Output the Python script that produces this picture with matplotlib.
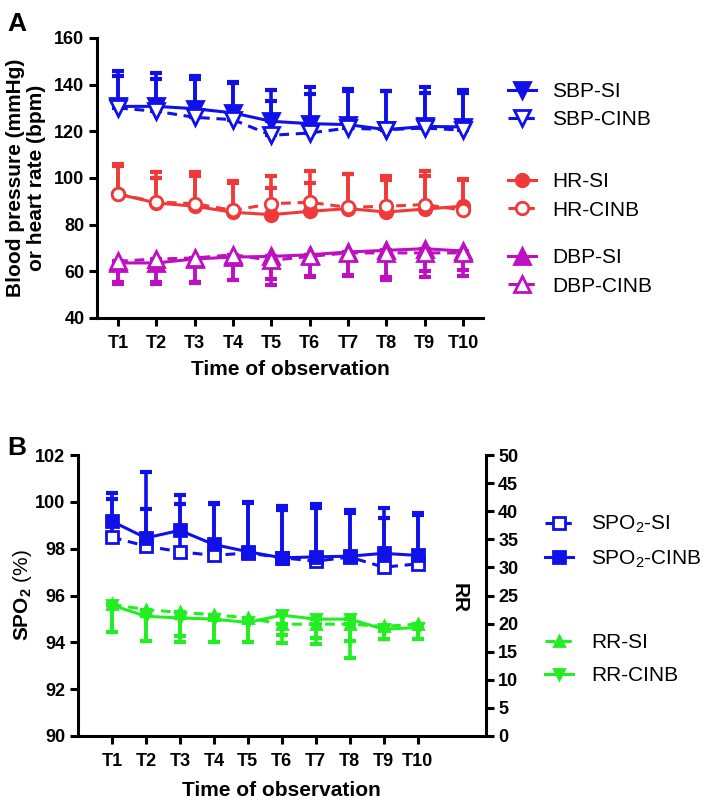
import matplotlib
matplotlib.use("Agg")
import matplotlib.pyplot as plt
import numpy as np

plt.rcParams['font.family'] = ['Liberation Sans', 'DejaVu Sans']
plt.rcParams['mathtext.fontset'] = 'custom'
plt.rcParams['mathtext.rm'] = 'Liberation Sans'
plt.rcParams['mathtext.bf'] = 'Liberation Sans:bold'
plt.rcParams['mathtext.default'] = 'regular'

# ---------------- data ----------------
time_labels = ["T1", "T2", "T3", "T4", "T5", "T6", "T7", "T8", "T9", "T10"]

sbp_si = [130.7, 130.7, 129.7, 127.9, 124.3, 123.3, 122.9, 120.7, 122.1, 121.9]
sbp_si_upper = [145.7, 145.0, 143.9, 141.0, 137.9, 138.9, 138.1, 137.4, 138.9, 137.9]
sbp_cinb = [130.0, 128.6, 126.0, 125.0, 118.3, 119.3, 121.4, 120.7, 121.4, 120.5]
sbp_cinb_upper = [143.6, 142.4, 142.4, 140.7, 133.1, 136.0, 137.4, 137.1, 136.4, 136.4]

hr_si = [93.1, 89.3, 87.9, 85.3, 84.3, 85.7, 86.9, 85.4, 86.7, 87.9]
hr_si_upper = [106.1, 102.4, 102.4, 98.6, 100.7, 102.9, 101.9, 100.7, 103.1, 99.5]
hr_cinb = [93.1, 89.7, 89.0, 86.1, 89.0, 89.6, 87.4, 87.9, 88.6, 86.2]
hr_cinb_upper = [105.0, 100.0, 100.7, 97.9, 95.7, 97.9, 101.5, 99.0, 100.7, 99.0]

dbp_si = [63.6, 63.6, 65.3, 66.1, 66.4, 67.1, 68.3, 69.0, 69.7, 68.7]
dbp_si_lower = [54.7, 54.7, 55.0, 56.1, 56.7, 57.6, 57.9, 57.6, 60.0, 57.9]
dbp_cinb = [64.3, 65.3, 65.7, 67.1, 64.7, 66.4, 67.9, 67.9, 67.9, 67.9]
dbp_cinb_lower = [55.5, 55.5, 55.5, 56.5, 54.3, 58.0, 58.3, 56.4, 57.6, 60.7]

spo2_si = [98.49, 98.11, 97.87, 97.71, 97.82, 97.61, 97.47, 97.64, 97.21, 97.35]
spo2_si_upper = [100.13, 99.70, 99.91, 99.91, 99.95, 99.67, 99.74, 99.53, 99.32, 99.45]
spo2_cinb = [99.17, 98.46, 98.78, 98.18, 97.87, 97.61, 97.65, 97.68, 97.80, 97.71]
spo2_cinb_upper = [100.38, 101.27, 100.31, 99.96, 100.0, 99.84, 99.89, 99.67, 99.74, 99.53]

rr_si = [23.4, 22.5, 22.0, 21.6, 21.0, 19.9, 19.9, 19.9, 19.5, 19.9]
rr_si_lower = [18.5, 16.9, 17.8, 16.7, 16.7, 18.0, 17.5, 13.8, 17.2, 17.2]
rr_cinb = [23.3, 21.3, 21.0, 20.8, 20.2, 21.5, 20.8, 20.8, 19.0, 19.3]
rr_cinb_lower = [18.5, 16.9, 16.7, 16.7, 16.7, 16.6, 16.3, 16.9, 17.2, 17.2]

BLUE = "#1010E8"
RED = "#F03A3A"
MAG = "#BE10C0"
GREEN = "#22EE22"

x = np.arange(1, len(time_labels) + 1)

fig = plt.figure(figsize=(7.08, 8.0), dpi=100)

def up_err(mean, upper):
    m = np.array(mean); u = np.array(upper)
    return [np.zeros_like(m), u - m]

def low_err(mean, lower):
    m = np.array(mean); l = np.array(lower)
    return [m - l, np.zeros_like(m)]

def series(ax, mean, err, color, marker, filled, ls, ms, label):
    ax.errorbar(x, mean, yerr=err, fmt='none', ecolor=color, elinewidth=2.6,
                capsize=4.5, capthick=3.0, zorder=2)
    ln, = ax.plot(x, mean, color=color, ls=ls, lw=2.2, marker=marker, ms=ms,
                  mfc=color if filled else 'white', mec=color, mew=2.0,
                  label=label, zorder=3)
    if ls == '--':
        ln.set_dashes((3.2, 2.2))
    return ln

def style_axis(ax):
    for s in ['top', 'right']:
        ax.spines[s].set_visible(False)
    for s in ['left', 'bottom']:
        ax.spines[s].set_linewidth(2.2)
    ax.tick_params(direction='out', length=6, width=2.2, labelsize=13, pad=3)
    ax.tick_params(axis='x', pad=6)
    for lab in ax.get_xticklabels() + ax.get_yticklabels():
        lab.set_fontweight('bold')

# ---------------- panel A ----------------
axA = fig.add_axes([0.137, 0.6025, 0.545, 0.35])
h1 = series(axA, sbp_si, up_err(sbp_si, sbp_si_upper), BLUE, 'v', True, '-', 12, 'SBP-SI')
h2 = series(axA, sbp_cinb, up_err(sbp_cinb, sbp_cinb_upper), BLUE, 'v', False, '--', 12, 'SBP-CINB')
h3 = series(axA, hr_si, up_err(hr_si, hr_si_upper), RED, 'o', True, '-', 9, 'HR-SI')
h4 = series(axA, hr_cinb, up_err(hr_cinb, hr_cinb_upper), RED, 'o', False, '--', 9, 'HR-CINB')
h5 = series(axA, dbp_si, low_err(dbp_si, dbp_si_lower), MAG, '^', True, '-', 12, 'DBP-SI')
h6 = series(axA, dbp_cinb, low_err(dbp_cinb, dbp_cinb_lower), MAG, '^', False, '--', 12, 'DBP-CINB')
axA.set_xlim(0.45, 10.52)
axA.set_ylim(40, 160)
axA.set_yticks(np.arange(40, 161, 20))
axA.set_xticks(x)
axA.set_xticklabels(time_labels)
style_axis(axA)
axA.set_xlabel("Time of observation", fontsize=15, fontweight='bold', labelpad=6)
axA.set_ylabel("Blood pressure (mmHg)\nor heart rate (bpm)", fontsize=15,
               fontweight='bold', labelpad=6, linespacing=1.1)

legkw = dict(frameon=False, fontsize=15, handlelength=1.35, handletextpad=0.75,
             labelspacing=0.45, borderaxespad=0, borderpad=0, loc='center left')
groupsA = [([h1, h2], 0.868), ([h3, h4], 0.755), ([h5, h6], 0.66)]
for hs, yc in groupsA:
    fig.legend(handles=hs, labels=[h.get_label() for h in hs],
               bbox_to_anchor=(0.718, yc), **legkw)

# ---------------- panel B ----------------
axB = fig.add_axes([0.110, 0.08, 0.576, 0.35125])
axR = axB.twinx()
b1 = series(axB, spo2_si, up_err(spo2_si, spo2_si_upper), BLUE, 's', False, '--', 8, 'SPO$_2$-SI')
b2 = series(axB, spo2_cinb, up_err(spo2_cinb, spo2_cinb_upper), BLUE, 's', True, '-', 8, 'SPO$_2$-CINB')
b3 = series(axR, rr_si, low_err(rr_si, rr_si_lower), GREEN, '^', True, '--', 7, 'RR-SI')
b4 = series(axR, rr_cinb, low_err(rr_cinb, rr_cinb_lower), GREEN, 'v', True, '-', 7, 'RR-CINB')
axB.set_xlim(0, 12)
axB.set_ylim(90, 102)
axB.set_yticks(np.arange(90, 103, 2))
axR.set_ylim(0, 50)
axR.set_yticks(np.arange(0, 51, 5))
axB.set_xticks(x)
axB.set_xticklabels(time_labels)
style_axis(axB)
for s in ['top', 'left', 'bottom']:
    axR.spines[s].set_visible(False)
axR.spines['right'].set_linewidth(2.2)
axR.tick_params(direction='out', length=6, width=2.2, labelsize=13, pad=3)
for lab in axR.get_yticklabels():
    lab.set_fontweight('bold')
axB.set_xlabel("Time of observation", fontsize=15, fontweight='bold', labelpad=8)
axB.set_ylabel(r"$\mathbf{SPO_2}$ (%)", fontsize=15, labelpad=1)
axR.text(0.936, 0.49, "RR", transform=axB.transAxes, rotation=-90,
         fontsize=15, fontweight='bold', ha='center', va='center')

legkwB = dict(legkw)
legkwB['labelspacing'] = 0.65
legkwB['handletextpad'] = 0.85
groupsB = [([b1, b2], 0.3225), ([b3, b4], 0.176)]
for hs, yc in groupsB:
    fig.legend(handles=hs, labels=[h.get_label() for h in hs],
               bbox_to_anchor=(0.77, yc), **legkwB)

fig.text(0.01, 0.985, "A", fontsize=19, fontweight='bold', va='top')
fig.text(0.01, 0.455, "B", fontsize=19, fontweight='bold', va='top')

fig.savefig("out.png", dpi=100)
